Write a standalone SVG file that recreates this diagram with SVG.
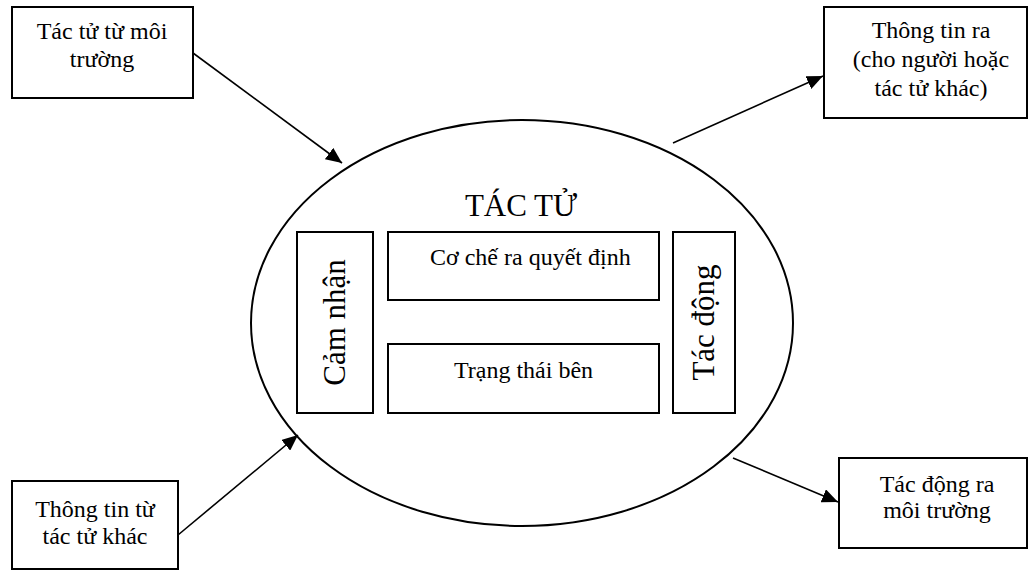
<svg xmlns="http://www.w3.org/2000/svg" width="1028" height="571" viewBox="0 0 1028 571">
  <style>
    .box { fill: #ffffff; stroke: #000000; stroke-width: 2; }
    .oval { fill: none; stroke: #000000; stroke-width: 2; }
    .lbl { font-family: "Liberation Serif", "Times New Roman", serif; font-size: 24px; fill: #000000; text-anchor: middle; }
    .big { font-family: "Liberation Serif", "Times New Roman", serif; font-size: 31px; fill: #000000; text-anchor: middle; }
    .edge { stroke: #000000; stroke-width: 1.6; fill: none; marker-end: url(#arrow); }
  </style>
  <defs>
    <marker id="arrow" markerUnits="userSpaceOnUse" markerWidth="18" markerHeight="14" refX="16" refY="7" orient="auto">
      <path d="M0,0 L16,7 L0,14 Z" fill="#000000"/>
    </marker>
  </defs>
  <rect width="1028" height="571" fill="#ffffff"/>

  <!-- the agent -->
  <g id="agent">
    <ellipse class="oval" cx="522" cy="323" rx="271" ry="203"/>
    <text class="big" x="521" y="216">TÁC TỬ</text>
  </g>

  <g id="perception">
    <rect class="box" x="297" y="232" width="76" height="181"/>
    <text class="big" font-size="32" transform="translate(345,322.5) rotate(-90)">Cảm nhận</text>
  </g>

  <g id="decision">
    <rect class="box" x="388" y="232" width="271" height="68"/>
    <text class="lbl" x="430" y="265" text-anchor="start" style="text-anchor:start">Cơ chế ra quyết định</text>
  </g>

  <g id="state">
    <rect class="box" x="388" y="344" width="271" height="69"/>
    <text class="lbl" x="523.5" y="378">Trạng thái bên</text>
  </g>

  <g id="action">
    <rect class="box" x="673" y="232" width="62" height="181"/>
    <text class="big" font-size="32" transform="translate(714,322.5) rotate(-90)">Tác động</text>
  </g>

  <!-- surrounding sources and targets -->
  <g id="env-in">
    <rect class="box" x="12" y="7" width="181" height="91"/>
    <text class="lbl" x="102" y="39">Tác tử từ môi</text>
    <text class="lbl" x="102" y="67">trường</text>
  </g>

  <g id="info-out">
    <rect class="box" x="824" y="7" width="203" height="111"/>
    <text class="lbl" x="931" y="38">Thông tin ra</text>
    <text class="lbl" x="931" y="67">(cho người hoặc</text>
    <text class="lbl" x="931" y="96">tác tử khác)</text>
  </g>

  <g id="info-in">
    <rect class="box" x="12" y="481" width="166" height="88"/>
    <text class="lbl" x="95" y="517">Thông tin từ</text>
    <text class="lbl" x="95" y="544">tác tử khác</text>
  </g>

  <g id="env-out">
    <rect class="box" x="839" y="458" width="188" height="90"/>
    <text class="lbl" x="937" y="492">Tác động ra</text>
    <text class="lbl" x="937" y="518">môi trường</text>
  </g>

  <!-- connectors -->
  <g id="connectors">
    <line class="edge" x1="193" y1="53" x2="342" y2="163"/>
    <line class="edge" x1="673" y1="143" x2="823" y2="76"/>
    <line class="edge" x1="178" y1="535" x2="298" y2="435"/>
    <line class="edge" x1="733" y1="458" x2="838" y2="502"/>
  </g>
</svg>
